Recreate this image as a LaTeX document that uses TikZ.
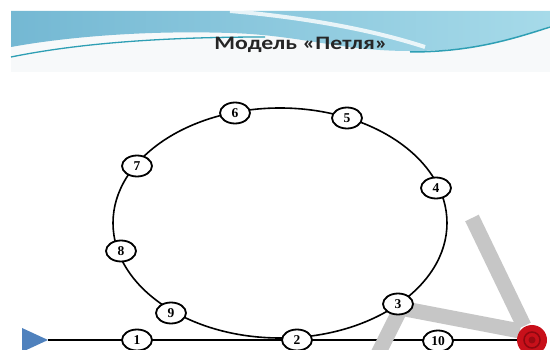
\documentclass[tikz,border=0pt]{standalone}
\usepackage{fontspec}
\usetikzlibrary{shapes.geometric}
\newfontfamily\titlefont{Carlito}
\newfontfamily\numfont{Liberation Serif}
\definecolor{bandgray}{HTML}{C6C6C6}
\definecolor{blueL}{HTML}{74B8D3}
\definecolor{blueR}{HTML}{A6DAE9}
\definecolor{tealline}{HTML}{2E9FB4}
\definecolor{headbg}{HTML}{F7F9FA}
\definecolor{triblue}{HTML}{4F81BD}
\definecolor{redA}{HTML}{C8101A}
\definecolor{redB}{HTML}{8E0810}
\begin{document}
\begin{tikzpicture}[x=1pt,y=-1pt,
  stop/.style={ellipse,draw=black,line width=1.8pt,fill=white,
    minimum width=30pt,minimum height=21pt,inner sep=0pt,
    font=\numfont\bfseries\fontsize{13.5}{13.5}\selectfont},
  track/.style={draw=black,line width=1.6pt},
  band/.style={draw=bandgray,line width=15pt,line cap=butt}]
\useasboundingbox (0,0) rectangle (550,350);
\clip (0,0) rectangle (550,350);
\fill[white] (0,0) rectangle (550,350);
% header
\fill[headbg] (11,11) rectangle (550,72);
\shade[left color=blueL,right color=blueR]
  (11,11) -- (550,11) -- (550,26)
  .. controls (505,42) and (470,51) .. (410,51)
  .. controls (340,51) and (300,35) .. (230,33)
  .. controls (140,30) and (60,38) .. (11,47) -- cycle;
\draw[white,opacity=0.8,line width=4pt]
  (230,11) .. controls (300,17) and (370,29) .. (425,47);
\draw[tealline,line width=1.3pt]
  (11,57) .. controls (70,45) and (150,37) .. (265,37);
\draw[tealline,line width=1.5pt]
  (410,52) .. controls (470,52) and (510,40) .. (550,27);
\node[font=\titlefont\bfseries\fontsize{19}{19}\selectfont,text=black!85,anchor=base,
  xscale=1.25]
  (title) at (301,50) {Модель «Петля»};
% loop and track
\draw[track] (280,223) ellipse [x radius=167pt, y radius=115pt];
\fill[triblue] (22,328) -- (48,340) -- (22,352) -- cycle;
\coordinate (start) at (48,340);
\coordinate (finish) at (532,340);
\draw[track] (start) -- (finish);
% gray watermark bands
\draw[band] (472,218) -- (524,326);
\draw[band] (400,308) -- (520,331);
\draw[band] (401,308) -- (376,358);
% stops
\node[stop] (n1) at (137,340) {1};
\node[stop] (n2) at (297,340) {2};
\node[stop] (n3) at (398,304) {3};
\node[stop] (n4) at (436,188) {4};
\node[stop] (n5) at (347,118) {5};
\node[stop] (n6) at (235,113) {6};
\node[stop] (n7) at (137,166) {7};
\node[stop] (n8) at (121,251) {8};
\node[stop] (n9) at (171,313) {9};
\node[stop] (n10) at (438,341) {10};
% finish marker
\fill[redA] (finish) circle (15pt);
\draw[redB,line width=1.5pt] (finish) circle (8pt);
\fill[redB!80!redA] (finish) circle (3.5pt);
\end{tikzpicture}
\end{document}
